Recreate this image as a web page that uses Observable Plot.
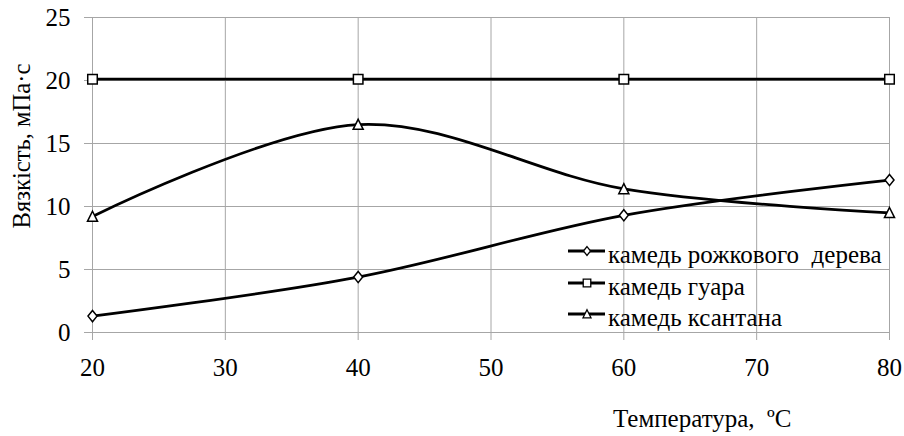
<!DOCTYPE html>
<html>
<head>
<meta charset="utf-8">
<script src="https://cdn.jsdelivr.net/npm/d3@7"></script>
<script src="https://cdn.jsdelivr.net/npm/@observablehq/plot@0.6"></script>
<style>
  html, body { margin: 0; padding: 0; background: #fff; }
  #wrap { position: relative; width: 904px; height: 436px; }
  #wrap svg { display: block; }
  #wrap svg, #wrap text { font-family: "Liberation Serif", "Times New Roman", serif !important; }
  #overlay { position: absolute; left: 0; top: 0; pointer-events: none; }
</style>
</head>
<body>
<div id="wrap"></div>
<script>
// ---- data ----
const temperatures = [20, 40, 60, 80];
const seriesNames = ["камедь рожкового  дерева", "камедь гуара", "камедь ксантана"];
const locustBean = [1.3, 4.4, 9.3, 12.1];
const guar = [20.1, 20.1, 20.1, 20.1];
const xanthan = [9.2, 16.5, 11.4, 9.5];
const xTicks = [20, 30, 40, 50, 60, 70, 80];
const yTicks = [0, 5, 10, 15, 20, 25];
const xLabel = "Температура,  ºC";
const yLabel = "Вязкість, мПа·с";

const seriesValues = [locustBean, guar, xanthan];
const rows = [];
seriesNames.forEach((name, i) => {
  temperatures.forEach((t, j) => rows.push({series: name, t, v: seriesValues[i][j]}));
});

// ---- custom hollow symbols ----
const diamondSym = {draw(ctx, size) {
  const r = Math.sqrt(size / Math.PI);
  const w = 0.85 * r, h = 1.05 * r;
  ctx.moveTo(0, -h); ctx.lineTo(w, 0); ctx.lineTo(0, h); ctx.lineTo(-w, 0); ctx.closePath();
}};
const squareSym = {draw(ctx, size) {
  const r = Math.sqrt(size / Math.PI);
  const s = 0.9 * r;
  ctx.moveTo(-s, -s); ctx.lineTo(s, -s); ctx.lineTo(s, s); ctx.lineTo(-s, s); ctx.closePath();
}};
const triangleSym = {draw(ctx, size) {
  const r = Math.sqrt(size / Math.PI);
  const w = 0.95 * r;
  ctx.moveTo(0, -1.0 * r); ctx.lineTo(w, 0.9 * r); ctx.lineTo(-w, 0.9 * r); ctx.closePath();
}};
const symbols = [diamondSym, squareSym, triangleSym];

const font = "Liberation Serif";
const gridColor = "#a6a6a6";

const chart = Plot.plot({
  width: 904,
  height: 436,
  marginLeft: 92,
  marginRight: 15,
  marginTop: 17,
  marginBottom: 104,
  style: {fontFamily: font, fontSize: "25px", color: "black", background: "white"},
  x: {domain: [20, 80], label: null},
  y: {domain: [0, 25], label: null},
  symbol: {domain: seriesNames, range: symbols},
  marks: [
    Plot.gridX(xTicks, {stroke: gridColor, strokeOpacity: 1, strokeWidth: 1}),
    Plot.gridY(yTicks, {stroke: gridColor, strokeOpacity: 1, strokeWidth: 1}),
    Plot.axisX(xTicks, {tickSize: 8, tickPadding: 18, stroke: gridColor, fill: "black", label: null, tickFormat: d => String(d)}),
    Plot.axisY(yTicks, {tickSize: 8, tickPadding: 14, stroke: gridColor, fill: "black", label: null, tickFormat: d => String(d)}),
    Plot.line(rows, {x: "t", y: "v", z: "series", curve: "cardinal", stroke: "black", strokeWidth: 2.75}),
    Plot.dot(rows, {x: "t", y: "v", symbol: "series", r: 5.3, fill: "white", stroke: "black", strokeWidth: 1.5})
  ]
});

const wrap = document.getElementById("wrap");
wrap.appendChild(chart);

// ---- overlay: axis titles and legend ----
const ov = d3.select(wrap).append("svg")
  .attr("id", "overlay")
  .attr("width", 904).attr("height", 436);

ov.append("text")
  .attr("transform", "translate(30,146) rotate(-90)")
  .attr("text-anchor", "middle")
  .attr("font-family", font)
  .attr("font-size", 24.6)
  .attr("fill", "black")
  .text(yLabel);

ov.append("text")
  .attr("x", 613).attr("y", 427)
  .attr("font-family", font)
  .attr("font-size", 25)
  .attr("fill", "black")
  .style("white-space", "pre")
  .text(xLabel);

const legendRowsY = [251, 283, 314];
seriesNames.forEach((name, i) => {
  const g = ov.append("g").attr("transform", `translate(0,${legendRowsY[i]})`);
  g.append("line").attr("x1", 568).attr("x2", 605).attr("y1", 0).attr("y2", 0)
    .attr("stroke", "black").attr("stroke-width", 3);
  const p = d3.path();
  symbols[i].draw(p, Math.PI * 4.2 * 4.2);
  g.append("path").attr("d", p.toString()).attr("transform", "translate(587,0)")
    .attr("fill", "white").attr("stroke", "black").attr("stroke-width", 1.3);
  g.append("text").attr("x", 608).attr("y", 12)
    .attr("font-family", font)
    .attr("font-size", 25).attr("fill", "black")
    .style("white-space", "pre")
    .text(name);
});
</script>
</body>
</html>
